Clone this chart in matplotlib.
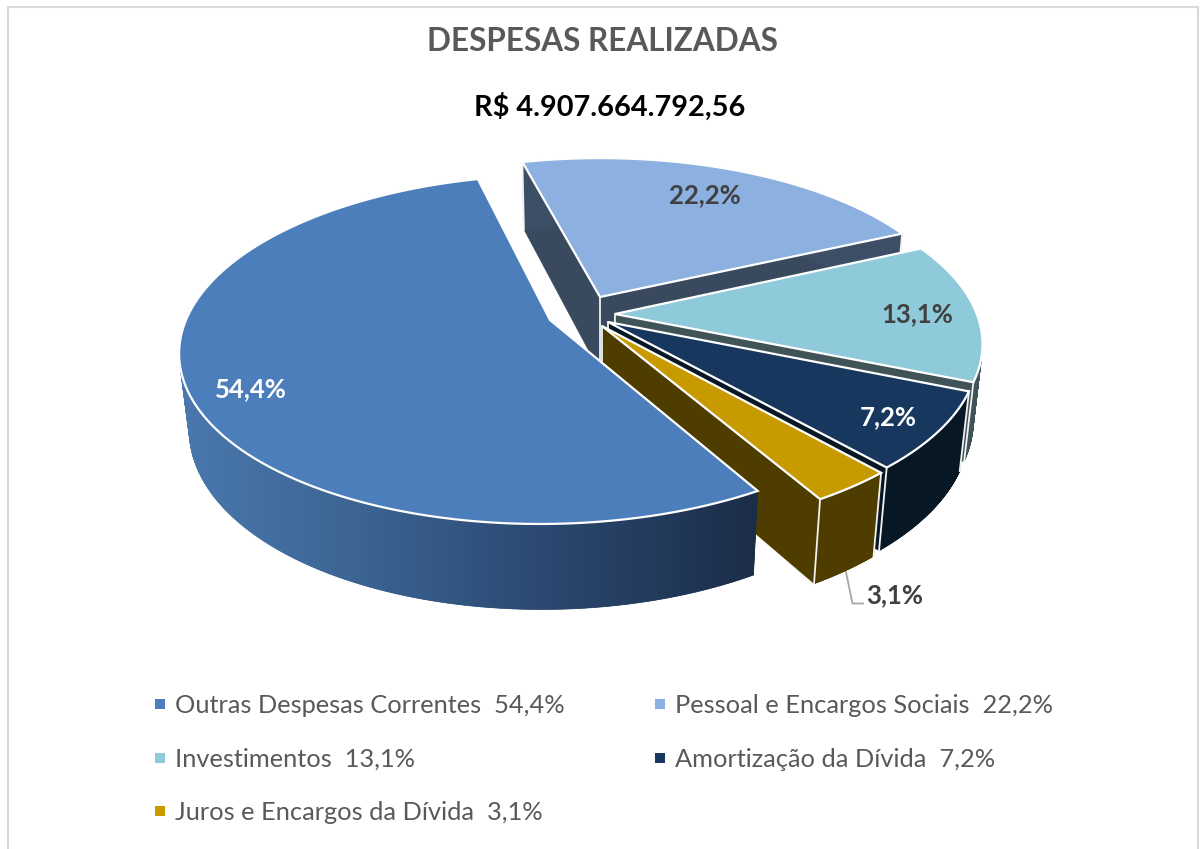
import numpy as np
import matplotlib
matplotlib.use("Agg")
import matplotlib.pyplot as plt
from matplotlib.colors import LinearSegmentedColormap
from matplotlib.patches import Polygon, Rectangle

categories = ["Outras Despesas Correntes", "Pessoal e Encargos Sociais", "Investimentos",
              "Amortização da Dívida", "Juros e Encargos da Dívida"]
values = [54.4, 22.2, 13.1, 7.2, 3.1]
title = "DESPESAS REALIZADAS"
subtitle = "R$ 4.907.664.792,56"
top_colors = ["#4c7ebb", "#8cb0df", "#8fcada", "#17375e", "#c79a00"]
wall_colors = [None, "#3d4f66", "#3f5358", "#071824", "#4f3d00"]
side_colors = [None, "#3a4a5e", "#3f5358", "#071824", "#4f3d00"]
label_colors = ["white", "#404040", "#404040", "white", "#404040"]
label_pos = [(251, 389), (705, 195), (917, 314), (888, 417), (895, 595)]
apex_px = [(550, 320), (600, 297), (615, 314), (608, 322), (602, 326)]
start_angle = -59.5
FONT = "Lato"

CX, CY, F, G, K, M, D = 600, 320, 364, 169.5, 0.169, 0.024, 78


def project(X, Y, Z=0.0):
    w = 1 + K * Y + M * Z
    return CX + F * X / w, CY + (-G * Y + D * Z) / w


def unproject(sx, sy):
    a = -(sy - CY) / G
    Y = a / (1 - K * a)
    return (sx - CX) / F * (1 + K * Y), Y


fig = plt.figure(figsize=(12, 8.49), dpi=100)
ax = fig.add_axes([0, 0, 1, 1])
ax.set_xlim(0, 1200)
ax.set_ylim(849, 0)
ax.axis("off")
ax.add_patch(Rectangle((8, 7), 1190, 860, fc="white", ec="#d9d9d9", lw=1.5, zorder=0))

grad = LinearSegmentedColormap.from_list(
    "g", [(0, "#4a78ae"), (0.3, "#3c6593"), (0.55, "#2f4f7a"), (1, "#1b2d48")])

# angular extents, clockwise from the start angle
ends = start_angle - np.cumsum(values) * 3.6
starts = np.r_[start_angle, ends[:-1]]
order = [1, 2, 3, 4, 0]
z = 2
for i in order:
    ax0, ay0 = unproject(*apex_px[i])
    th = np.radians(np.linspace(starts[i], ends[i], 240))
    X = ax0 + np.cos(th)
    Y = ay0 + np.sin(th)
    tx, ty = project(X, Y, 0)
    bx, by = project(X, Y, 1)
    a_t = project(ax0, ay0, 0)
    a_b = project(ax0, ay0, 1)
    # radial side walls
    for j in (0, -1):
        col = side_colors[i] or "#1b2d48"
        ax.add_patch(Polygon([a_t, (tx[j], ty[j]), (bx[j], by[j]), a_b], fc=col, ec=col, lw=0.3, zorder=z))
    # outer wall, swept as quads so the silhouette at the tangent points is filled
    for n in range(len(th) - 1):
        q = [(tx[n], ty[n]), (tx[n + 1], ty[n + 1]), (bx[n + 1], by[n + 1]), (bx[n], by[n])]
        c = wall_colors[i] if i else grad(np.clip((tx[n] - 180.0) / 577.0, 0, 1))
        ax.add_patch(Polygon(q, fc=c, ec=c, lw=0.5, zorder=z))
    if i == 0:
        # smooth gradient over the visible band
        ring = np.r_[np.c_[tx, ty], np.c_[bx, by][::-1]]
        clip = Polygon(ring, transform=ax.transData, fc="none", ec="none")
        ax.add_patch(clip)
        im = ax.imshow(np.linspace(0, 1, 512)[None, :], cmap=grad, extent=(180, 757, 620, 300),
                       aspect="auto", zorder=z + 0.05, interpolation="bilinear")
        im.set_clip_path(clip)
        ax.set_xlim(0, 1200)
        ax.set_ylim(849, 0)
    # white corner lines
    if i != 0:
        for (p, q) in ((a_t, a_b), ((tx[0], ty[0]), (bx[0], by[0])), ((tx[-1], ty[-1]), (bx[-1], by[-1]))):
            ax.plot([p[0], q[0]], [p[1], q[1]], color="#f2f2f2", lw=1.3, zorder=z + 0.1)
    # top face
    ax.add_patch(Polygon(np.r_[[a_t], np.c_[tx, ty]], fc=top_colors[i], ec="white", lw=1.6,
                         joinstyle="miter", zorder=z + 0.2))
    z += 1

for v, (lx, ly), c in zip(values, label_pos, label_colors):
    ax.text(lx, ly, f"{v:.1f}%".replace(".", ","), color=c, fontsize=18.5, fontweight="bold",
            family=FONT, ha="center", va="center", zorder=20)

ax.plot([846, 852.5, 863], [572, 603.5, 603.5], color="#a6a6a6", lw=1.3, zorder=1)

ax.text(602.5, 41, title, color="#595959", fontsize=22.7, fontweight="bold", family=FONT,
        ha="center", va="center")
ax.text(610, 107, subtitle, color="black", fontsize=20.8, fontweight="bold", family=FONT,
        ha="center", va="center")

leg_x = [160, 660, 160, 660, 160]
leg_y = [704, 704, 758, 758, 811]
for name, v, c, lx, ly in zip(categories, values, top_colors, leg_x, leg_y):
    ax.add_patch(Rectangle((lx - 5, ly - 5), 10, 10, fc=c, ec="none", zorder=5))
    ax.text(lx + 15, ly + 1.5, f"{name}  {v:.1f}%".replace(".", ","), color="#595959", fontsize=18.3,
            family=FONT, ha="left", va="center")

fig.savefig("out.png", dpi=100)
